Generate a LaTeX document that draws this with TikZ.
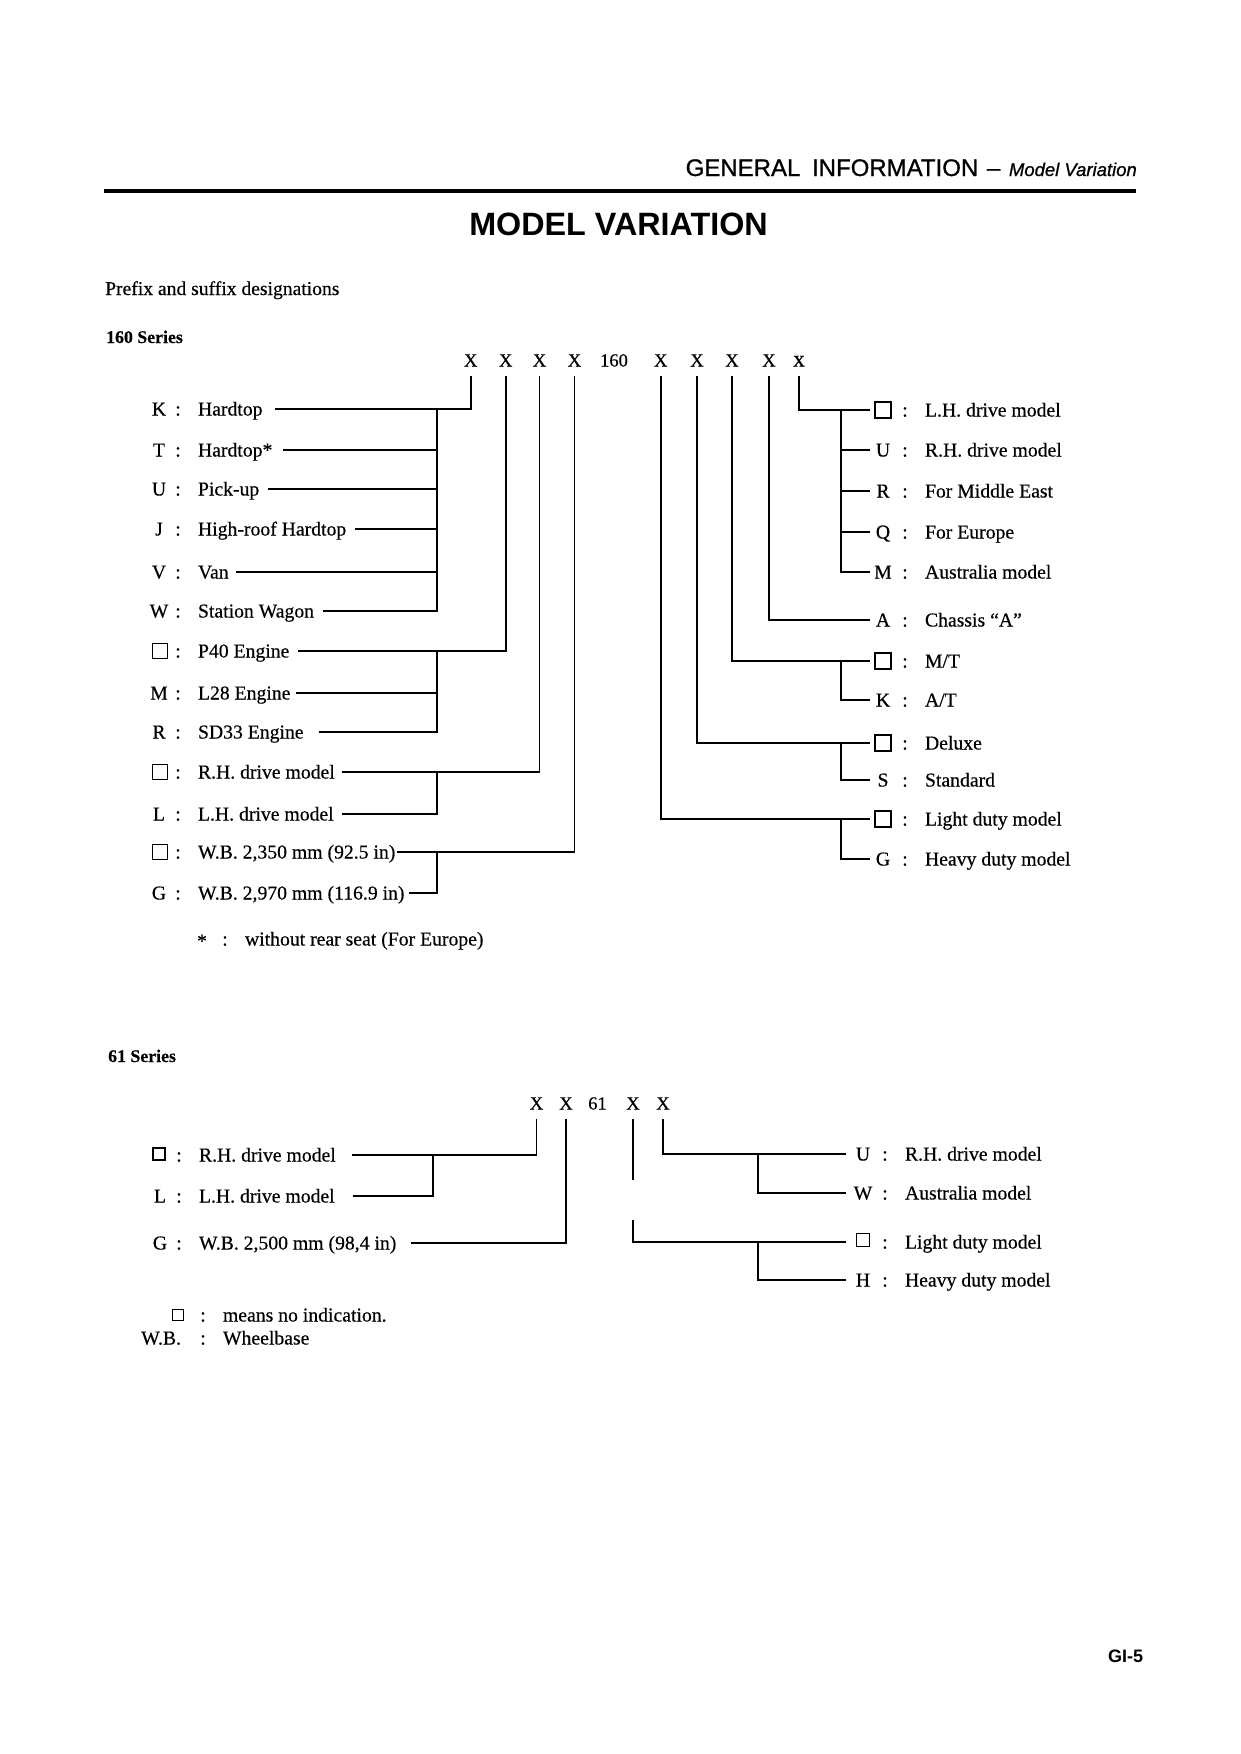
\documentclass[tikz,border=0pt]{standalone}
\usepackage{fontspec}
\setmainfont{Liberation Serif}[FakeBold=0.4]
\newfontfamily\hdrsans{Liberation Sans}[FakeBold=0.9]
\newfontfamily\hdrsansb{Liberation Sans Bold}
\newcommand\lblfont{\fontsize{19.7}{22}\selectfont}
\newcommand\rowfont{\fontsize{18.5}{20}\selectfont}
\tikzset{
  conn/.style={line width=1.9pt, line join=miter},
  lbl/.style={font=\lblfont, inner sep=0pt, outer sep=0pt, text height=13pt, text depth=0pt},
  txt/.style={lbl, anchor=west},
  keyl/.style={lbl, anchor=center},
  nobox/.style={draw, line width=1.4pt, minimum size=#1, inner sep=0pt, outer sep=0pt},
  nobox/.default=15pt,
  codech/.style={font=\rowfont, inner sep=0pt, text height=13pt, text depth=0pt, outer ysep=9.5pt},
}
% left row: name, key, text, y
\newcommand\Lrow[4]{%
  \node[keyl] (#1k) at (159,#4) {#2};
  \node[keyl] (#1c) at (178,#4) {:};
  \node[txt] (#1) at (198,#4) {#3};}
\newcommand\Lbrow[3]{%
  \node[nobox] (#1k) at (160,#2) {};
  \node[keyl] (#1c) at (178,#2) {:};
  \node[txt] (#1) at (198,#2) {#3};}
\newcommand\Rrow[4]{%
  \node[keyl] (#1k) at (883,#4) {#2};
  \node[keyl] (#1c) at (905,#4) {:};
  \node[txt] (#1) at (925,#4) {#3};}
\newcommand\Rbrow[3]{%
  \node[nobox=16pt] (#1k) at (883,#2) {};
  \node[keyl] (#1c) at (905,#2) {:};
  \node[txt] (#1) at (925,#2) {#3};}
\begin{document}
\begin{tikzpicture}[x=1pt,y=-1pt]
\useasboundingbox[fill=white] (0,0) rectangle (1240,1754);

% ---------- header ----------
\node[anchor=base east, inner sep=0pt] (hdr) at (1137,176)
  {\hdrsans\fontsize{24}{26}\selectfont GENERAL\hspace{5pt} INFORMATION\hspace{2pt} –\hspace{2pt} {\itshape\fontsize{18.5}{22}\selectfont Model Variation}};
\draw[line width=4pt] (104,191) -- (1136,191);
\node[anchor=base, inner sep=0pt] (title) at (618.5,235.5)
  {\hdrsansb\fontsize{32.3}{34}\selectfont MODEL VARIATION};
\node[anchor=base west, inner sep=0pt] (prefix) at (105,295)
  {\fontsize{19.6}{22}\selectfont Prefix and suffix designations};
\node[anchor=base west, inner sep=0pt] (s160) at (106,343)
  {\bfseries\fontsize{17.8}{20}\selectfont 160 Series};

% ---------- 160 code row ----------
\node[codech] (X1) at (470.7,360) {X};
\node[codech] (X2) at (505.7,360) {X};
\node[codech] (X3) at (539.5,360) {X};
\node[codech] (X4) at (574.5,360) {X};
\node[codech] (N160) at (614,360) {160};
\node[codech] (X6) at (660.7,360) {X};
\node[codech] (X7) at (697,360) {X};
\node[codech] (X8) at (732,360) {X};
\node[codech] (X9) at (769,360) {X};
\node[codech, font=\fontsize{23}{24}\selectfont] (X10) at (799,360) {x};

% ---------- 160 left labels ----------
\Lrow{K}{K}{Hardtop}{409}
\Lrow{T}{T}{Hardtop*}{450}
\Lrow{U}{U}{Pick-up}{489}
\Lrow{J}{J}{High-roof Hardtop}{529}
\Lrow{V}{V}{Van}{572}
\Lrow{W}{W}{Station Wagon}{611}
\Lbrow{P}{651}{P40 Engine}
\Lrow{M}{M}{L28 Engine}{693}
\Lrow{R}{R}{SD33 Engine}{732}
\Lbrow{RH}{772}{R.H. drive model}
\Lrow{LH}{L}{L.H. drive model}{814}
\Lbrow{WB}{852}{W.B. 2,350 mm (92.5 in)}
\Lrow{G}{G}{W.B. 2,970 mm (116.9 in)}{893}

\coordinate (LB) at (437,0);
\draw[conn] ([xshift=12pt]K.east) -| (X1.south);
\draw[conn] ([xshift=11pt]T.east) -- (LB |- T);
\draw[conn] ([xshift=9pt]U.east) -- (LB |- U);
\draw[conn] ([xshift=9pt]J.east) -- (LB |- J);
\draw[conn] ([xshift=7pt]V.east) -- (LB |- V);
\draw[conn] ([xshift=9pt]W.east) -| (LB |- K);
\draw[conn] ([xshift=9pt]P.east) -| (X2.south);
\draw[conn] ([xshift=6pt]M.east) -- (LB |- M);
\draw[conn] ([xshift=15pt]R.east) -| (LB |- P);
\draw[conn] ([xshift=7pt]RH.east) -| (X3.south);
\draw[conn] ([xshift=8pt]LH.east) -| (LB |- RH);
\draw[conn] ([xshift=2pt]WB.east) -| (X4.south);
\draw[conn] ([xshift=5pt]G.east) -| (LB |- WB);

% ---------- 160 right labels ----------
\Rbrow{rLH}{410}{L.H. drive model}
\Rrow{rU}{U}{R.H. drive model}{450}
\Rrow{rR}{R}{For Middle East}{491}
\Rrow{rQ}{Q}{For Europe}{532}
\Rrow{rM}{M}{Australia model}{572}
\Rrow{rA}{A}{Chassis “A”}{620}
\Rbrow{rMT}{661}{M/T}
\Rrow{rK}{K}{A/T}{700}
\Rbrow{rDx}{743}{Deluxe}
\Rrow{rS}{S}{Standard}{780}
\Rbrow{rLt}{819}{Light duty model}
\Rrow{rG}{G}{Heavy duty model}{859}

\coordinate (RE) at (870,0);
\coordinate (RB) at (841,0);
\draw[conn] (X10.south) |- (RE |- rLH);
\draw[conn] (RB |- rU) -- (RE |- rU);
\draw[conn] (RB |- rR) -- (RE |- rR);
\draw[conn] (RB |- rQ) -- (RE |- rQ);
\draw[conn] (RE |- rM) -| (RB |- rLH);
\draw[conn] (X9.south) |- (RE |- rA);
\draw[conn] (X8.south) |- (RE |- rMT);
\draw[conn] (RE |- rK) -| (RB |- rMT);
\draw[conn] (X7.south) |- (RE |- rDx);
\draw[conn] (RE |- rS) -| (RB |- rDx);
\draw[conn] (X6.south) |- (RE |- rLt);
\draw[conn] (RE |- rG) -| (RB |- rLt);

% ---------- footnote 160 ----------
\node[keyl] (fstar) at (202,941) {*};
\node[keyl] (fstarc) at (225,939) {:};
\node[txt] (fstart) at (245,939) {without rear seat (For Europe)};

% ---------- 61 series ----------
\node[anchor=base west, inner sep=0pt] (s61) at (108,1062)
  {\bfseries\fontsize{17.8}{20}\selectfont 61 Series};
\node[codech] (Y1) at (536.5,1103) {X};
\node[codech] (Y2) at (566,1103) {X};
\node[codech] (N61) at (597.5,1103) {61};
\node[codech] (Y4) at (633,1103) {X};
\node[codech] (Y5) at (663,1103) {X};

\node[nobox=12pt] (aRHk) at (159,1154) {};
\node[keyl] (aRHc) at (179,1155) {:};
\node[txt] (aRH) at (199,1155) {R.H. drive model};
\node[keyl] (aLk) at (160,1196) {L};
\node[keyl] (aLc) at (179,1196) {:};
\node[txt] (aL) at (199,1196) {L.H. drive model};
\node[keyl] (aGk) at (160,1243) {G};
\node[keyl] (aGc) at (179,1243) {:};
\node[txt] (aG) at (199,1243) {W.B. 2,500 mm (98,4 in)};

\coordinate (LB61) at (433,0);
\draw[conn] ([xshift=16pt]aRH.east) -| (Y1.south);
\draw[conn] ([xshift=18pt]aL.east) -| (LB61 |- aRH);
\draw[conn] ([xshift=15pt]aG.east) -| (Y2.south);

\node[keyl] (bUk) at (863,1154) {U};
\node[keyl] (bUc) at (885,1154) {:};
\node[txt] (bU) at (905,1154) {R.H. drive model};
\node[keyl] (bWk) at (863,1193) {W};
\node[keyl] (bWc) at (885,1193) {:};
\node[txt] (bW) at (905,1193) {Australia model};
\node[nobox=13pt] (bLtk) at (863,1240) {};
\node[keyl] (bLtc) at (885,1242) {:};
\node[txt] (bLt) at (905,1242) {Light duty model};
\node[keyl] (bHk) at (863,1280) {H};
\node[keyl] (bHc) at (885,1280) {:};
\node[txt] (bH) at (905,1280) {Heavy duty model};

\coordinate (RE61) at (846,0);
\coordinate (RB61) at (758,0);
\coordinate (Y4a) at (633,1180);
\coordinate (Y4b) at (633,1220);
\draw[conn] (Y5.south) |- (RE61 |- bU);
\draw[conn] (RE61 |- bW) -| (RB61 |- bU);
\draw[conn] (Y4.south) -- (Y4a);
\draw[conn] (Y4b) |- (RE61 |- bLt);
\draw[conn] (RE61 |- bH) -| (RB61 |- bLt);

% ---------- legend ----------
\node[nobox=11pt] (lgbox) at (178,1315) {};
\node[keyl] (lgboxc) at (203,1315) {:};
\node[txt] (lgboxt) at (223,1315) {means no indication.};
\node[lbl, anchor=east] (lgwb) at (181,1338) {W.B.};
\node[keyl] (lgwbc) at (203,1338) {:};
\node[txt] (lgwbt) at (223,1338) {Wheelbase};

% ---------- page number ----------
\node[anchor=base west, inner sep=0pt] (pg) at (1108,1662)
  {\hdrsansb\fontsize{18}{20}\selectfont GI-5};
\end{tikzpicture}
\end{document}
